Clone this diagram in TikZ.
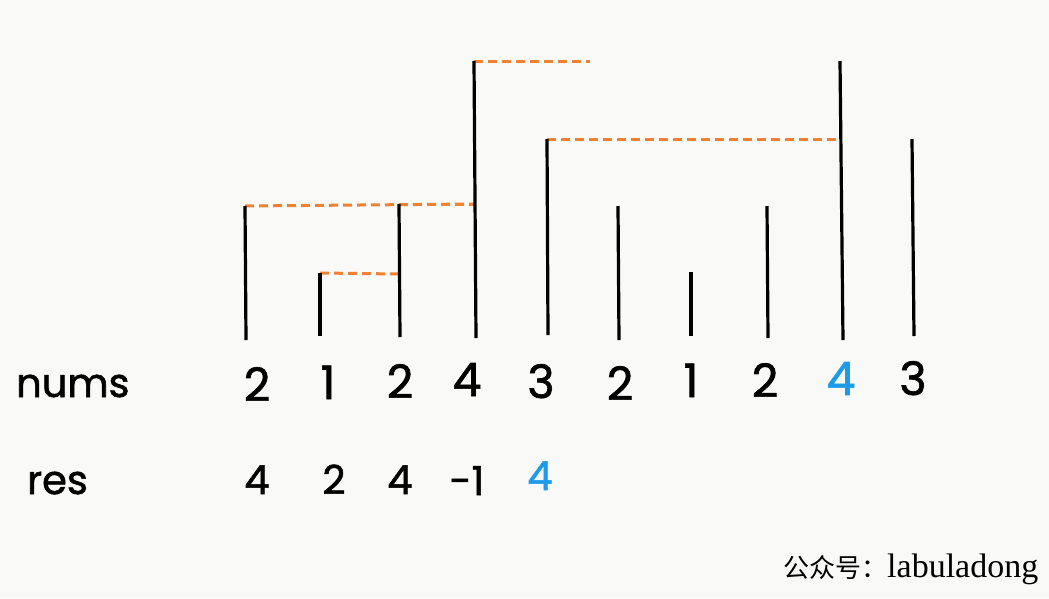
\documentclass[tikz,border=0pt]{standalone}
\usepackage{fontspec}
\setmainfont{Poppins}
\newfontfamily\digf[FakeBold=1.5]{Poppins}
\newfontfamily\cjkf{Noto Sans CJK SC}
\newfontfamily\serf{Liberation Serif}
\begin{document}
\begin{tikzpicture}[x=1pt,y=-1pt,
  bar/.style={line width=3.2pt,black},
  link/.style={line width=3pt,color=orangeline,dash pattern=on 9pt off 5pt},
  numtxt/.style={font=\digf\fontsize{46}{46}\selectfont,inner sep=0pt,anchor=base},
  restxt/.style={font=\digf\fontsize{40}{40}\selectfont,inner sep=0pt,anchor=base},
  lbl/.style={font=\digf\fontsize{40}{40}\selectfont,inner sep=0pt,anchor=base west}]
\definecolor{orangeline}{RGB}{240,128,50}
\definecolor{hl}{RGB}{30,155,232}
\definecolor{bg}{RGB}{249,249,247}
\fill[bg] (0,0) rectangle (1049,598);
\useasboundingbox (0,0) rectangle (1049,598);
% bar tops and bottoms
\coordinate (t0) at (245,206); \coordinate (b0) at (246,340);
\coordinate (t1) at (320,273); \coordinate (b1) at (320,336);
\coordinate (t2) at (399,204); \coordinate (b2) at (400,337);
\coordinate (t3) at (474,61);  \coordinate (b3) at (476,338);
\coordinate (t4) at (547,139); \coordinate (b4) at (548,335);
\coordinate (t5) at (618,206); \coordinate (b5) at (619,340);
\coordinate (t6) at (691,272); \coordinate (b6) at (691,336);
\coordinate (t7) at (767,206); \coordinate (b7) at (768,338);
\coordinate (t8) at (840,61);  \coordinate (b8) at (843,340);
\coordinate (t9) at (912,139); \coordinate (b9) at (914,336);
\coordinate (m3a) at (474,204);
\coordinate (m2a) at (399,274);
\coordinate (m8a) at (840,139);
\coordinate (free3) at (590,61);
% dashed links
\draw[link] (t0) -- (m3a);
\draw[link] (t2) -- (m3a);
\draw[link] (t1) -- (m2a);
\draw[link] (t3) -- (free3);
\draw[link] (t4) -- (m8a);
% bars
\foreach \i in {0,...,9} \draw[bar] (t\i) -- (b\i);
% labels
\node[lbl] (numsl) at (16,397) {nums};
\node[lbl] (resl) at (27,494) {res};
\node[numtxt] (n0) at (257,401) {2};
\node[numtxt] (n1) at (328,399) {1};
\node[numtxt] (n2) at (400,398) {2};
\node[numtxt] (n3) at (467,396) {4};
\node[numtxt] (n4) at (541,398) {3};
\node[numtxt] (n5) at (620,400) {2};
\node[numtxt] (n6) at (691,397) {1};
\node[numtxt] (n7) at (765,397) {2};
\node[numtxt,text=hl] (n8) at (841,395) {4};
\node[numtxt] (n9) at (913,395) {3};
\node[restxt] (r0) at (257,494) {4};
\node[restxt] (r1) at (334,494) {2};
\node[restxt] (r2) at (400,494) {4};
\node[restxt] (r3) at (467,495) {-1};
\node[restxt,text=hl] (r4) at (540,490) {4};
\node[inner sep=0pt,anchor=base west] (wm) at (783,577) {{\cjkf\fontsize{26}{26}\selectfont 公众号：}{\serf\fontsize{34}{34}\selectfont labuladong}};
\end{tikzpicture}
\end{document}
